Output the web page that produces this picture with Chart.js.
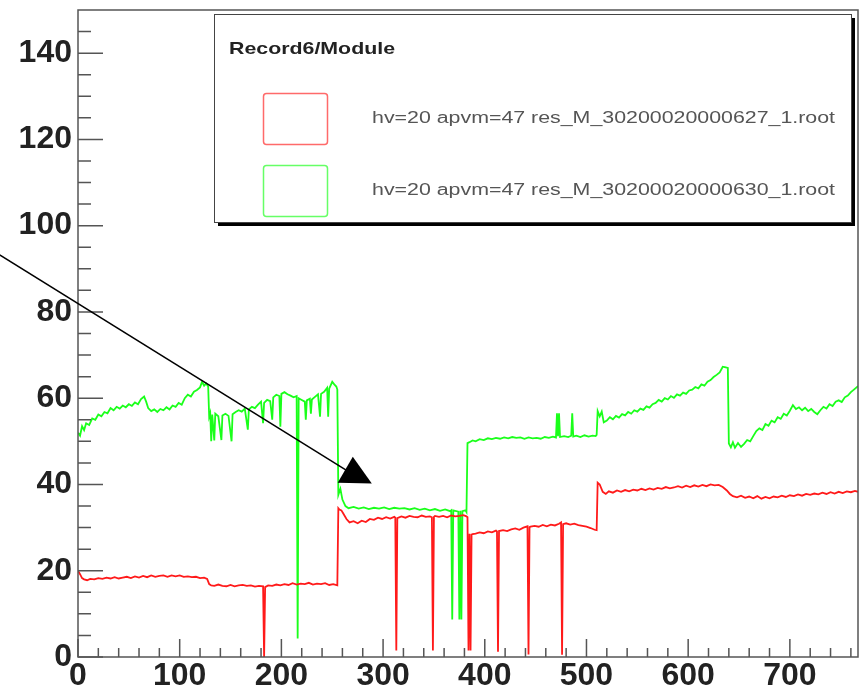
<!DOCTYPE html>
<html>
<head>
<meta charset="utf-8">
<script src="https://cdn.jsdelivr.net/npm/chart.js@4.4.1/dist/chart.umd.min.js"></script>
<style>
  html, body { margin: 0; padding: 0; background: #fff; }
  canvas { display: block; }
</style>
</head>
<body>
<canvas id="grafica" width="863" height="691"></canvas>
<script>
// Textos de la leyenda
const legendTitle = 'Record6/Module';
const redLabel = 'hv=20 apvm=47 res_M_30200020000627_1.root';
const greenLabel = 'hv=20 apvm=47 res_M_30200020000630_1.root';

// Marcas de los ejes
const xTicks = [0, 100, 200, 300, 400, 500, 600, 700];
const yTicks = [0, 20, 40, 60, 80, 100, 120, 140];

// [canal, valor]
const redBins = [
  [0,20.0],[2,19.2],[4,18.3],[6,18.0],[9,17.8],[12,18.1],[16,18.0],[20,18.3],[24,18.1],[28,18.4],
  [32,18.2],[36,18.5],[40,18.2],[44,18.4],[48,18.6],[52,18.3],[56,18.7],[60,18.4],[64,18.8],[68,18.5],
  [72,18.9],[76,18.6],[80,18.8],[84,18.9],[88,18.6],[92,18.9],[96,18.7],[100,18.9],[104,18.6],[108,18.7],
  [112,18.5],[116,18.6],[120,18.3],[124,18.4],[127,18.1],[129,16.9],[131,16.6],[134,16.5],[138,16.8],[142,16.5],
  [146,16.4],[150,16.7],[154,16.4],[158,16.6],[162,16.7],[166,16.5],[170,16.6],[174,16.3],[178,16.5],[182,16.4],
  [183,0],[184,16.2],[187,16.6],[191,16.5],[195,16.8],[199,16.6],[203,16.9],[207,16.7],[211,17.1],[215,16.8],
  [219,17.0],[223,16.9],[227,17.2],[231,16.8],[235,17.0],[239,16.9],[243,17.1],[247,16.7],[251,16.9],[255,16.6],
  [256,34.5],[257,34.2],[259,34.0],[261,33.2],[264,32.0],[267,31.2],[271,31.5],[275,31.0],[279,31.6],[283,31.3],
  [287,32.0],[291,31.8],[295,32.3],[299,32.0],[303,32.4],[307,32.1],[311,32.5],[312,32.3],[313,1.5],[314,32.2],
  [318,32.6],[322,32.3],[326,32.7],[330,32.5],[334,32.4],[338,32.8],[342,32.5],[346,32.6],[348,32.4],[349,1.5],
  [350,32.5],[351,32.7],[355,32.5],[359,32.7],[363,32.4],[367,32.8],[371,32.6],[375,32.7],[379,32.9],[382,32.6],
  [383,32.4],[384,1.5],[385,28.6],[386,1.5],[387,28.4],[388,28.5],[391,28.6],[395,28.9],[399,28.7],[403,29.1],
  [407,28.9],[411,29.3],[412,29.1],[413,1.2],[414,29.2],[418,29.4],[422,29.2],[426,29.6],[430,29.8],[434,29.5],
  [438,30.0],[442,30.3],[443,0.6],[444,30.1],[445,30.2],[449,30.4],[453,30.2],[457,30.6],[461,30.3],[465,30.7],
  [469,30.5],[473,30.9],[475,31.2],[476,0.5],[477,30.8],[480,31.0],[484,30.7],[488,30.9],[492,30.6],[496,30.4],
  [500,30.2],[504,29.9],[508,29.5],[510,29.4],[511,40.4],[513,40.0],[516,38.3],[519,37.8],[522,38.4],[526,38.1],
  [530,38.6],[534,38.3],[538,38.7],[542,38.4],[546,38.8],[550,38.6],[554,39.0],[558,38.7],[562,39.1],[566,38.8],
  [570,39.2],[574,39.0],[578,39.4],[582,39.1],[586,39.3],[590,39.6],[594,39.3],[598,39.7],[602,39.4],[606,39.8],
  [610,39.5],[614,39.9],[618,39.6],[622,40.0],[626,39.8],[630,39.9],[634,39.4],[638,38.6],[641,37.8],[644,37.3],
  [648,37.0],[652,37.4],[656,36.9],[660,37.2],[664,36.8],[668,37.3],[672,36.7],[676,37.1],[680,36.8],[684,37.2],
  [688,37.0],[692,37.4],[696,37.1],[700,37.5],[704,37.3],[708,37.7],[712,37.4],[716,37.8],[720,37.6],[724,37.9],
  [728,37.7],[732,38.1],[736,37.8],[740,38.2],[744,37.9],[748,38.3],[752,38.0],[756,38.4],[760,38.2],[764,38.5],[767,38.3]
];

const greenBins = [
  [0,52.0],[2,51.3],[4,53.5],[6,52.6],[8,54.2],[11,53.8],[14,55.3],[17,55.0],[20,56.2],[23,55.8],
  [26,56.8],[29,56.5],[32,57.7],[35,57.2],[38,58.0],[41,57.6],[44,58.3],[47,57.9],[50,58.6],[53,58.2],
  [56,59.0],[59,58.6],[62,59.8],[65,60.4],[67,59.2],[69,57.7],[72,57.0],[75,57.4],[78,56.8],[81,57.5],
  [84,57.2],[87,57.9],[90,57.4],[93,58.3],[96,58.0],[99,58.9],[102,58.5],[105,60.0],[108,60.8],[111,60.4],
  [114,61.5],[117,61.9],[120,62.5],[122,63.8],[124,62.9],[126,63.4],[128,62.7],[129,55.7],[130,56.5],[131,50.0],
  [132,56.2],[134,50.2],[135,56.4],[138,55.8],[141,50.3],[142,56.0],[145,56.4],[148,55.9],[151,50.0],[152,56.3],
  [155,56.8],[158,57.2],[161,56.9],[164,57.6],[167,52.7],[168,57.4],[171,58.0],[174,57.7],[177,58.5],[180,59.2],
  [182,54.2],[183,58.9],[186,59.6],[189,59.3],[191,55.0],[192,60.2],[195,60.8],[198,60.5],[199,53.4],[200,61.0],
  [203,61.4],[206,60.9],[209,60.6],[212,60.2],[215,60.5],[216,4.3],[217,60.0],[220,59.6],[223,59.2],[224,55.0],
  [225,59.5],[228,59.9],[229,56.4],[230,59.7],[233,60.3],[236,60.9],[238,55.7],[239,61.0],[242,61.5],[245,62.4],
  [246,55.7],[247,62.2],[250,63.8],[252,63.2],[254,62.7],[255,62.0],[256,37.6],[258,39.0],[260,36.5],[263,35.0],
  [266,34.5],[271,34.8],[276,34.4],[281,34.7],[286,34.3],[291,34.6],[296,34.4],[301,34.7],[306,34.3],[311,34.6],
  [316,34.4],[321,34.5],[326,34.2],[331,34.5],[336,34.1],[341,34.4],[346,34.0],[351,34.3],[356,33.9],[361,34.2],
  [366,33.8],[367,34.0],[368,8.7],[369,34.0],[374,33.7],[375,8.7],[376,33.9],[377,8.7],[378,33.8],[381,34.0],
  [382,33.6],[383,49.6],[385,49.8],[388,50.2],[391,50.0],[395,50.5],[399,50.3],[403,50.7],[407,50.5],[411,50.8],
  [415,50.6],[419,50.9],[423,50.7],[427,51.0],[431,50.8],[435,50.9],[439,50.6],[443,50.9],[447,50.7],[451,50.8],
  [455,50.6],[459,51.0],[463,50.8],[467,51.1],[470,50.9],[471,56.5],[472,51.2],[473,56.5],[474,51.0],[478,51.2],
  [482,51.0],[485,51.3],[486,56.5],[487,51.1],[490,51.3],[494,51.0],[498,51.4],[502,51.1],[506,51.3],[509,51.2],
  [510,51.5],[511,57.0],[513,55.8],[515,56.9],[517,54.4],[520,54.8],[523,55.6],[526,55.1],[529,55.9],[532,55.5],
  [535,56.3],[538,56.0],[541,56.8],[544,56.4],[547,57.2],[550,56.9],[553,57.6],[556,57.3],[559,58.1],[562,57.8],
  [565,58.6],[568,58.9],[571,59.6],[574,59.2],[577,60.0],[580,59.7],[583,60.5],[586,60.1],[589,60.9],[592,60.6],
  [595,61.3],[598,61.0],[601,61.8],[604,62.0],[607,62.6],[610,62.3],[613,63.2],[616,62.9],[619,63.8],[622,64.2],
  [625,64.9],[628,65.4],[631,66.0],[634,67.3],[636,67.2],[639,67.0],[640,49.5],[642,48.6],[644,49.8],[646,48.5],
  [649,49.6],[652,48.7],[655,49.4],[658,50.3],[661,50.0],[664,51.2],[667,52.4],[670,53.0],[673,52.6],[676,54.0],
  [679,53.6],[682,54.8],[685,54.4],[688,55.6],[691,55.2],[694,56.4],[697,56.0],[700,57.1],[703,58.4],[706,57.5],
  [709,57.9],[712,57.2],[715,57.8],[718,57.0],[721,57.5],[724,56.8],[727,56.3],[730,57.2],[733,58.0],[736,57.6],
  [739,58.6],[742,58.2],[745,59.2],[748,59.5],[751,59.1],[754,60.2],[757,60.6],[760,61.4],[763,62.0],[767,62.8]
];

// Flecha (en coordenadas de datos)
const arrowLine = [[-77.0, 93.2], [271.2, 42.2]];
const arrowHead = [[270.2, 46.4], [255.4, 40.4], [288.9, 40.2]];

const toPoints = bins => bins.map(b => ({ x: b[0], y: b[1] }));

// Escribe texto estirado horizontalmente hasta un ancho dado (como lo pinta ROOT)
function stretchText(ctx, text, x, y, targetW) {
  const w = ctx.measureText(text).width;
  ctx.save();
  ctx.translate(x, y);
  ctx.scale(targetW / w, 1);
  ctx.fillText(text, 0, 0);
  ctx.restore();
}

const rootFrame = {
  id: 'rootFrame',
  afterDatasetsDraw(chart) {
    const { ctx, chartArea: a, scales: { x, y } } = chart;
    ctx.save();
    ctx.strokeStyle = '#555';
    ctx.lineWidth = 1.5;
    ctx.strokeRect(a.left, a.top, a.right - a.left, a.bottom - a.top);
    ctx.beginPath();
    for (let v = 0; v <= x.max; v += 20) {
      const px = x.getPixelForValue(v);
      const len = v % 100 === 0 ? 18 : 9;
      ctx.moveTo(px, a.bottom);
      ctx.lineTo(px, a.bottom - len);
    }
    for (let v = 0; v < y.max; v += 5) {
      const py = y.getPixelForValue(v);
      const len = v % 20 === 0 ? 25 : 13;
      ctx.moveTo(a.left, py);
      ctx.lineTo(a.left + len, py);
    }
    ctx.stroke();
    ctx.restore();
  },
  afterDraw(chart) {
    const { ctx, scales: { x, y } } = chart;
    ctx.save();

    // leyenda con sombra
    const bx = 214, by = 14, bw = 637, bh = 208;
    ctx.fillStyle = '#000';
    ctx.fillRect(bx + 4, by + 4, bw, bh);
    ctx.fillStyle = '#fff';
    ctx.fillRect(bx, by, bw, bh);
    ctx.strokeStyle = '#444';
    ctx.lineWidth = 1;
    ctx.strokeRect(bx + 0.5, by + 0.5, bw, bh);

    ctx.fillStyle = '#222';
    ctx.font = 'bold 17px "Liberation Sans", Arial, sans-serif';
    ctx.textBaseline = 'alphabetic';
    stretchText(ctx, legendTitle, 229, 54, 166);

    const entries = [
      { label: redLabel, color: '#ff6a6a', top: 93 },
      { label: greenLabel, color: '#66ff66', top: 165 }
    ];
    ctx.font = '16px "Liberation Sans", Arial, sans-serif';
    for (const e of entries) {
      ctx.strokeStyle = e.color;
      ctx.lineWidth = 1.5;
      ctx.beginPath();
      ctx.roundRect(263.5, e.top + 0.5, 64, 51, 3);
      ctx.stroke();
      ctx.fillStyle = '#555';
      stretchText(ctx, e.label, 372, e.top + 30, 463);
    }

    // flecha
    ctx.strokeStyle = '#000';
    ctx.fillStyle = '#000';
    ctx.lineWidth = 1.5;
    ctx.beginPath();
    ctx.moveTo(x.getPixelForValue(arrowLine[0][0]), y.getPixelForValue(arrowLine[0][1]));
    ctx.lineTo(x.getPixelForValue(arrowLine[1][0]), y.getPixelForValue(arrowLine[1][1]));
    ctx.stroke();
    ctx.beginPath();
    arrowHead.forEach((p, i) => {
      const px = x.getPixelForValue(p[0]);
      const py = y.getPixelForValue(p[1]);
      if (i === 0) ctx.moveTo(px, py); else ctx.lineTo(px, py);
    });
    ctx.closePath();
    ctx.fill();

    ctx.restore();
  }
};

document.addEventListener('DOMContentLoaded', () => {
  const ctxGrafica = document.getElementById('grafica').getContext('2d');
  const tickFont = { family: '"Liberation Sans", Arial, sans-serif', size: 32, weight: 'bold' };

  new Chart(ctxGrafica, {
    type: 'line',
    data: {
      datasets: [
        {
          label: redLabel,
          data: toPoints(redBins),
          borderColor: '#ff1a1a',
          borderWidth: 1.8,
          pointRadius: 0,
          tension: 0
        },
        {
          label: greenLabel,
          data: toPoints(greenBins),
          borderColor: '#1aff1a',
          borderWidth: 1.8,
          pointRadius: 0,
          tension: 0
        }
      ]
    },
    options: {
      responsive: false,
      animation: false,
      devicePixelRatio: 1,
      layout: { padding: { top: 10, right: 5, left: 0, bottom: 0 } },
      plugins: {
        legend: { display: false },
        tooltip: { enabled: false }
      },
      scales: {
        x: {
          type: 'linear',
          min: 0,
          max: 767,
          grid: { display: false, drawTicks: false },
          border: { display: false },
          ticks: { font: tickFont, color: '#222', padding: 0, autoSkip: false, maxRotation: 0 },
          afterBuildTicks: s => { s.ticks = xTicks.map(v => ({ value: v })); },
          afterFit: s => { s.height = 34; s.paddingLeft = 0; s.paddingRight = 0; }
        },
        y: {
          type: 'linear',
          min: 0,
          max: 150,
          grid: { display: false, drawTicks: false },
          border: { display: false },
          ticks: { font: tickFont, color: '#222', padding: 6 },
          afterBuildTicks: s => { s.ticks = yTicks.map(v => ({ value: v })); },
          afterFit: s => { s.width = 78; s.paddingTop = 0; s.paddingBottom = 0; }
        }
      }
    },
    plugins: [rootFrame]
  });
});
</script>
</body>
</html>
